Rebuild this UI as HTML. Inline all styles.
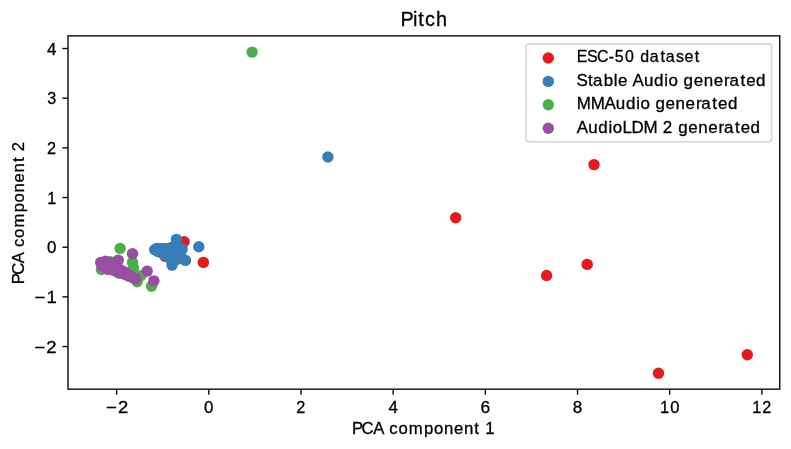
<!DOCTYPE html>
<html><head><meta charset="utf-8"><title>Pitch</title>
<style>html,body{margin:0;padding:0;background:#fff;}svg{display:block;will-change:transform;}text{font-family:"Liberation Sans",sans-serif;fill:#000;stroke:#000;stroke-width:0.3px;}</style>
</head><body>
<svg width="791" height="449" viewBox="0 0 791 449">
<rect x="0" y="0" width="791" height="449" fill="#ffffff"/>
<g fill="#e41a1c">
<circle cx="594.0" cy="164.6" r="5.70"/>
<circle cx="455.7" cy="217.7" r="5.70"/>
<circle cx="546.6" cy="275.5" r="5.70"/>
<circle cx="587.2" cy="264.4" r="5.70"/>
<circle cx="658.5" cy="373.2" r="5.70"/>
<circle cx="747.3" cy="354.7" r="5.70"/>
<circle cx="203.4" cy="262.4" r="5.70"/>
<circle cx="184.1" cy="241.7" r="5.70"/>
<circle cx="165.0" cy="256.3" r="5.70"/>
<circle cx="171.0" cy="247.6" r="5.70"/>
</g>
<g fill="#377eb8">
<circle cx="327.9" cy="157.0" r="5.70"/>
<circle cx="176.4" cy="239.4" r="5.70"/>
<circle cx="198.8" cy="246.8" r="5.70"/>
<circle cx="185.5" cy="260.4" r="5.70"/>
<circle cx="172.1" cy="265.1" r="5.70"/>
<circle cx="154.7" cy="249.7" r="5.70"/>
<circle cx="156.8" cy="248.4" r="5.70"/>
<circle cx="160.0" cy="248.6" r="5.70"/>
<circle cx="163.0" cy="248.6" r="5.70"/>
<circle cx="166.0" cy="248.6" r="5.70"/>
<circle cx="169.0" cy="248.6" r="5.70"/>
<circle cx="172.0" cy="248.5" r="5.70"/>
<circle cx="175.0" cy="248.5" r="5.70"/>
<circle cx="178.0" cy="248.5" r="5.70"/>
<circle cx="180.5" cy="248.6" r="5.70"/>
<circle cx="182.1" cy="249.1" r="5.70"/>
<circle cx="158.0" cy="251.5" r="5.70"/>
<circle cx="161.0" cy="252.5" r="5.70"/>
<circle cx="164.1" cy="254.4" r="5.70"/>
<circle cx="167.0" cy="256.0" r="5.70"/>
<circle cx="170.0" cy="258.0" r="5.70"/>
<circle cx="173.0" cy="256.0" r="5.70"/>
<circle cx="177.0" cy="255.0" r="5.70"/>
<circle cx="180.0" cy="253.0" r="5.70"/>
<circle cx="175.0" cy="260.0" r="5.70"/>
<circle cx="178.0" cy="259.0" r="5.70"/>
<circle cx="172.0" cy="262.0" r="5.70"/>
<circle cx="181.0" cy="257.0" r="5.70"/>
<circle cx="170.0" cy="253.0" r="5.70"/>
<circle cx="175.0" cy="252.0" r="5.70"/>
</g>
<g fill="#4daf4a">
<circle cx="252.1" cy="52.1" r="5.70"/>
<circle cx="120.1" cy="248.4" r="5.70"/>
<circle cx="132.5" cy="262.4" r="5.70"/>
<circle cx="133.4" cy="267.8" r="5.70"/>
<circle cx="151.5" cy="286.2" r="5.70"/>
<circle cx="137.1" cy="281.8" r="5.70"/>
<circle cx="140.8" cy="275.8" r="5.70"/>
<circle cx="101.4" cy="269.5" r="5.70"/>
<circle cx="118.7" cy="273.3" r="5.70"/>
<circle cx="110.5" cy="261.6" r="5.70"/>
</g>
<g fill="#984ea3">
<circle cx="132.5" cy="253.7" r="5.70"/>
<circle cx="118.3" cy="260.1" r="5.70"/>
<circle cx="147.2" cy="271.1" r="5.70"/>
<circle cx="153.9" cy="280.9" r="5.70"/>
<circle cx="100.7" cy="262.4" r="5.70"/>
<circle cx="103.0" cy="264.5" r="5.70"/>
<circle cx="105.4" cy="261.1" r="5.70"/>
<circle cx="107.0" cy="266.0" r="5.70"/>
<circle cx="109.0" cy="262.5" r="5.70"/>
<circle cx="108.0" cy="269.5" r="5.70"/>
<circle cx="110.0" cy="268.0" r="5.70"/>
<circle cx="112.0" cy="264.5" r="5.70"/>
<circle cx="114.0" cy="270.5" r="5.70"/>
<circle cx="116.0" cy="266.5" r="5.70"/>
<circle cx="118.0" cy="271.5" r="5.70"/>
<circle cx="120.0" cy="269.8" r="5.70"/>
<circle cx="122.0" cy="273.0" r="5.70"/>
<circle cx="123.4" cy="271.3" r="5.70"/>
<circle cx="125.0" cy="274.5" r="5.70"/>
<circle cx="127.0" cy="273.8" r="5.70"/>
<circle cx="129.0" cy="276.3" r="5.70"/>
<circle cx="131.0" cy="276.3" r="5.70"/>
<circle cx="133.0" cy="277.8" r="5.70"/>
<circle cx="135.8" cy="278.6" r="5.70"/>
<circle cx="102.0" cy="266.0" r="5.70"/>
<circle cx="104.5" cy="267.5" r="5.70"/>
</g>
<rect x="68.00" y="35.85" width="711.75" height="353.30" fill="none" stroke="#000" stroke-width="1.35"/>
<g stroke="#000" stroke-width="1.35">
<line x1="116.62" y1="389.15" x2="116.62" y2="394.75"/>
<line x1="208.80" y1="389.15" x2="208.80" y2="394.75"/>
<line x1="300.98" y1="389.15" x2="300.98" y2="394.75"/>
<line x1="393.16" y1="389.15" x2="393.16" y2="394.75"/>
<line x1="485.34" y1="389.15" x2="485.34" y2="394.75"/>
<line x1="577.52" y1="389.15" x2="577.52" y2="394.75"/>
<line x1="669.70" y1="389.15" x2="669.70" y2="394.75"/>
<line x1="761.88" y1="389.15" x2="761.88" y2="394.75"/>
<line x1="62.40" y1="346.55" x2="68.00" y2="346.55"/>
<line x1="62.40" y1="296.88" x2="68.00" y2="296.88"/>
<line x1="62.40" y1="247.20" x2="68.00" y2="247.20"/>
<line x1="62.40" y1="197.52" x2="68.00" y2="197.52"/>
<line x1="62.40" y1="147.85" x2="68.00" y2="147.85"/>
<line x1="62.40" y1="98.18" x2="68.00" y2="98.18"/>
<line x1="62.40" y1="48.50" x2="68.00" y2="48.50"/>
</g>
<g font-size="16.6px">
<text transform="translate(104.83,412.70) scale(1.1148,1)" font-size="16.60px" x="1.16 11.78">−2</text>
<text transform="translate(203.71,412.70) scale(1.0160,1)" font-size="16.60px" x="0.39">0</text>
<text transform="translate(295.89,412.70) scale(0.9794,1)" font-size="16.60px" x="0.36">2</text>
<text transform="translate(388.07,412.70) scale(1.0162,1)" font-size="16.60px" x="0.39">4</text>
<text transform="translate(480.25,412.70) scale(1.0516,1)" font-size="16.60px" x="0.22">6</text>
<text transform="translate(572.43,412.70) scale(1.0270,1)" font-size="16.60px" x="0.34">8</text>
<text transform="translate(659.52,412.70) scale(0.9944,1)" font-size="16.60px" x="0.42 10.74">10</text>
<text transform="translate(751.70,412.70) scale(0.9750,1)" font-size="16.60px" x="0.52 10.82">12</text>
<text transform="translate(33.21,352.65) scale(1.1148,1)" font-size="16.60px" x="1.16 11.78">−2</text>
<text transform="translate(33.21,302.98) scale(1.1142,1)" font-size="16.60px" x="1.16 11.88">−1</text>
<text transform="translate(46.62,253.30) scale(1.0160,1)" font-size="16.60px" x="0.39">0</text>
<text transform="translate(46.62,203.62) scale(0.9704,1)" font-size="16.60px" x="0.55">1</text>
<text transform="translate(46.62,153.95) scale(0.9794,1)" font-size="16.60px" x="0.36">2</text>
<text transform="translate(46.62,104.28) scale(0.9758,1)" font-size="16.60px" x="0.62">3</text>
<text transform="translate(46.62,54.60) scale(1.0162,1)" font-size="16.60px" x="0.39">4</text>
<text transform="translate(352.50,433.50) scale(1.0077,1)" font-size="16.60px" x="-0.48 9.03 20.55 31.52 36.60 45.55 55.88 71.01 80.81 90.73 100.64 110.56 120.94 126.40 131.79">PCA component 1</text>
<text transform="translate(24.20,283.85) rotate(-90) scale(1.0082,1)" font-size="16.60px" x="-0.49 9.03 20.54 31.51 36.58 45.52 55.85 70.97 80.77 90.68 100.59 110.50 120.88 126.34 131.60">PCA component 2</text>
</g>
<text transform="translate(400.90,26.00) scale(0.9955,1)" font-size="20.00px" x="-0.53 12.10 17.52 24.20 35.29">Pitch</text>
<rect x="525.90" y="43.90" width="245.80" height="97.90" rx="3.2" ry="3.2" fill="#ffffff" fill-opacity="0.8" stroke="#cccccc" stroke-opacity="0.8" stroke-width="1.6"/>
<g font-size="16.6px">
<circle cx="548.3" cy="58.00" r="5.70" fill="#e41a1c"/>
<text transform="translate(577.00,62.30) scale(0.9621,1)" font-size="16.60px" x="-0.32 10.34 20.79 32.91 39.28 49.93 59.84 65.68 75.55 86.79 92.27 102.88 111.78 122.40">ESC-50 dataset</text>
<circle cx="548.3" cy="81.40" r="5.70" fill="#377eb8"/>
<text transform="translate(577.00,85.70) scale(1.0212,1)" font-size="16.60px" x="-0.48 10.67 15.68 26.14 35.97 40.22 49.63 54.42 65.64 75.52 85.54 89.73 99.14 104.38 114.30 124.08 133.86 144.02 149.30 160.03 165.69 175.36">Stable Audio generated</text>
<circle cx="548.3" cy="104.80" r="5.70" fill="#4daf4a"/>
<text transform="translate(577.00,109.10) scale(1.0220,1)" font-size="16.60px" x="-0.16 13.35 26.83 38.04 47.91 57.92 62.11 71.51 76.75 86.66 96.44 106.21 116.36 121.64 132.36 138.01 147.67">MMAudio generated</text>
<circle cx="548.3" cy="128.20" r="5.70" fill="#984ea3"/>
<text transform="translate(577.00,132.50) scale(1.0212,1)" font-size="16.60px" x="-0.18 11.03 20.91 30.94 35.13 44.60 53.32 65.18 78.85 83.98 93.80 99.04 108.96 118.74 128.53 138.69 143.96 154.70 160.35 170.02">AudioLDM 2 generated</text>
</g>
</svg>
</body></html>
